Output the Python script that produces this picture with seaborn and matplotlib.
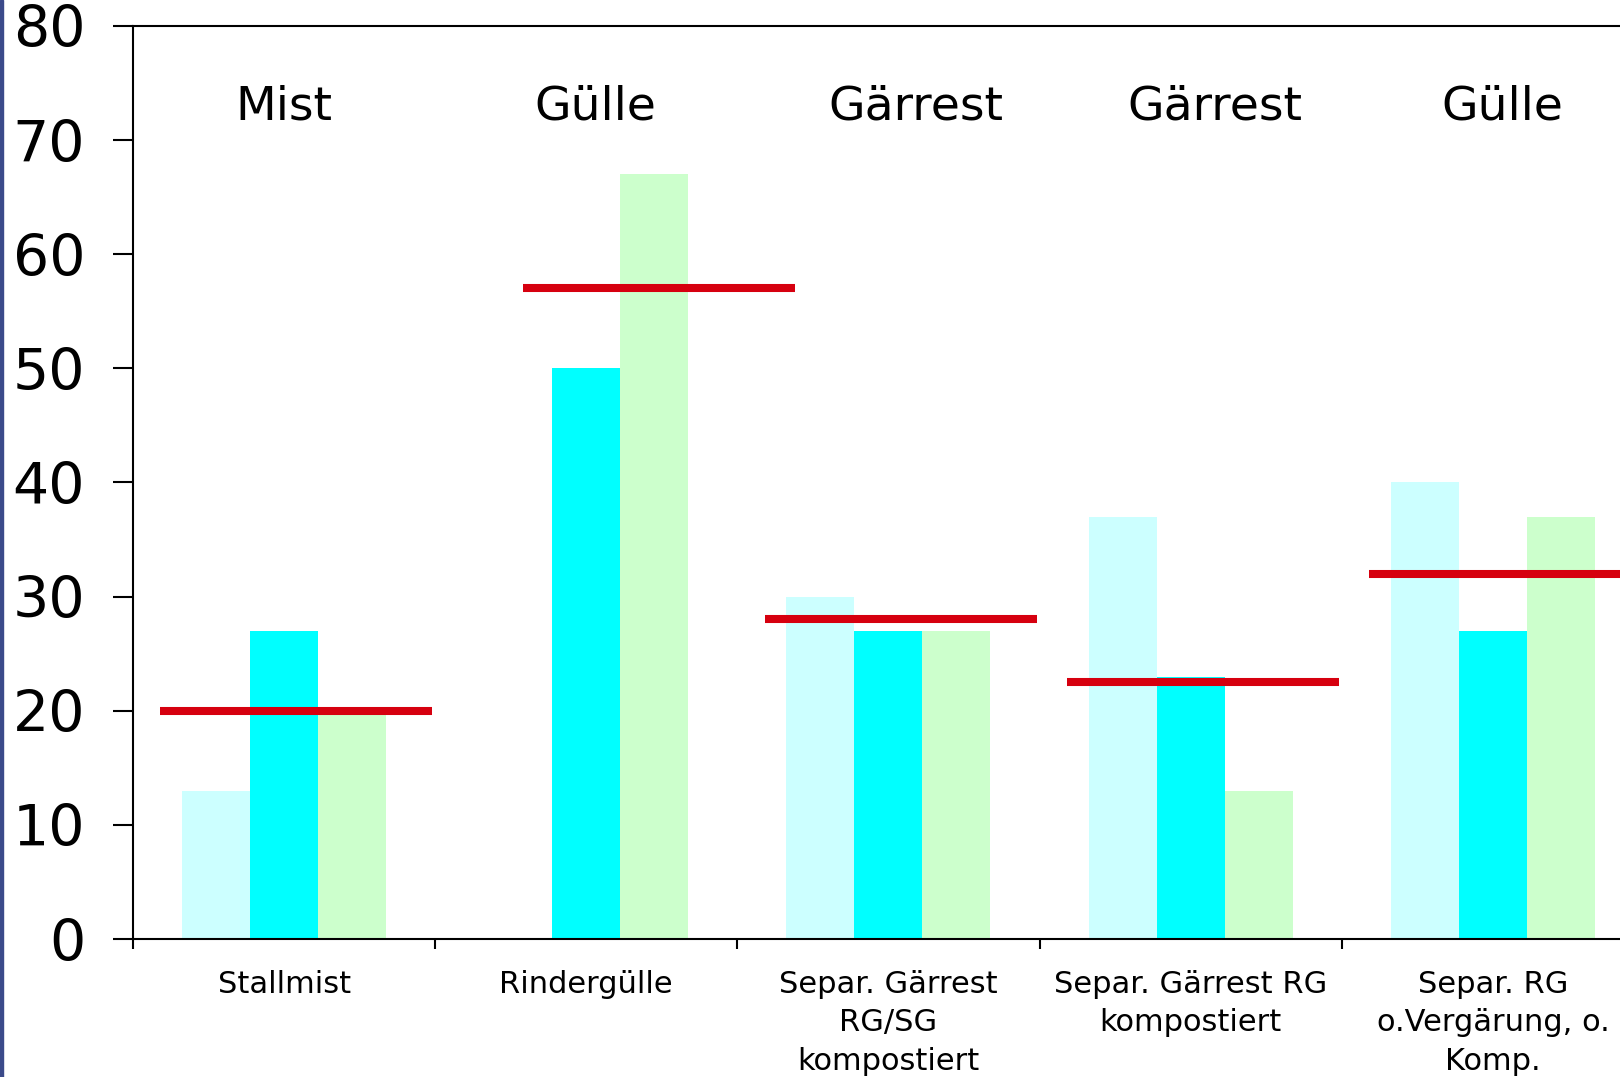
# Balkendiagramm: Werte je Düngerart mit Mittelwert-Linie
import numpy as np
import pandas as pd
import seaborn as sns
import matplotlib.pyplot as plt
from matplotlib.patches import Rectangle

# Daten
categories = ['Stallmist', 'Rindergülle', 'Separ. Gärrest\nRG/SG\nkompostiert',
              'Separ. Gärrest RG\nkompostiert', 'Separ. RG\no.Vergärung, o.\nKomp.']
groups = ['Mist', 'Gülle', 'Gärrest', 'Gärrest', 'Gülle']
series = ['Serie 1', 'Serie 2', 'Serie 3']
serie_1 = [13, 0, 30, 37, 40]
serie_2 = [27, 50, 27, 23, 27]
serie_3 = [20, 67, 27, 13, 37]
mittel = [20, 57, 28, 22.5, 32]
y_ticks = [0, 10, 20, 30, 40, 50, 60, 70, 80]

df = pd.DataFrame({
    'Kategorie': categories * 3,
    'Serie': np.repeat(series, len(categories)),
    'Wert': serie_1 + serie_2 + serie_3,
})

sns.set_style('ticks')
plt.rcParams['font.family'] = ['DejaVu Sans']
plt.rcParams['text.color'] = 'black'
plt.rcParams['xtick.color'] = 'black'
plt.rcParams['ytick.color'] = 'black'
plt.rcParams['xtick.labelcolor'] = 'black'
plt.rcParams['ytick.labelcolor'] = 'black'

fig = plt.figure(figsize=(16.2, 10.77), dpi=100)
ax = fig.add_axes([0.0821, 0.1281, 0.9327, 0.8478])

colors = ['#CCFFFF', '#00FFFF', '#CCFFCC']
sns.barplot(data=df, x='Kategorie', y='Wert', hue='Serie', order=categories,
            palette=colors, saturation=1, width=0.675, gap=0, linewidth=0,
            errorbar=None, legend=False, ax=ax)

# Mittelwert-Linien (zweite Linie sitzt im Original etwas nach rechts versetzt)
line_shift = [0, 0.2, 0, 0, 0]
for i, m in enumerate(mittel):
    ax.hlines(m, i - 0.41 + line_shift[i], i + 0.49 + line_shift[i],
              color='#D6000F', linewidth=5.8, zorder=5)

# Gruppen-Beschriftung oben
label_x = [0, 1.03, 2.09, 3.08, 4.03]
for x, g in zip(label_x, groups):
    ax.text(x, 72.9, g, ha='center', va='center', fontsize=34, color='black')

ax.set_xlim(-0.5, 4.5)
ax.set_ylim(0, 80)
ax.set_yticks(y_ticks)
ax.set_yticklabels([str(t) for t in y_ticks], fontsize=41)
ax.tick_params(axis='y', length=14.4, width=1.5, pad=20)

ax.set_xticks(np.arange(-0.5, 5, 1))
ax.set_xticklabels([])
ax.set_xticks(np.arange(len(categories)), minor=True)
ax.set_xticklabels(categories, minor=True, fontsize=22, linespacing=1.42)
ax.tick_params(axis='x', which='major', length=7, width=1.5)
ax.tick_params(axis='x', which='minor', length=0, pad=22)

ax.set_xlabel('')
ax.set_ylabel('')
for side in ['left', 'top', 'bottom']:
    ax.spines[side].set_linewidth(1.5)
    ax.spines[side].set_color('black')
ax.spines['right'].set_visible(False)

# dunkelblauer Rand links
fig.add_artist(Rectangle((0, 0), 3 / 1620, 1, transform=fig.transFigure,
                         color='#3B4A8A', zorder=10))

plt.savefig('out.png', dpi=100)
plt.close()
